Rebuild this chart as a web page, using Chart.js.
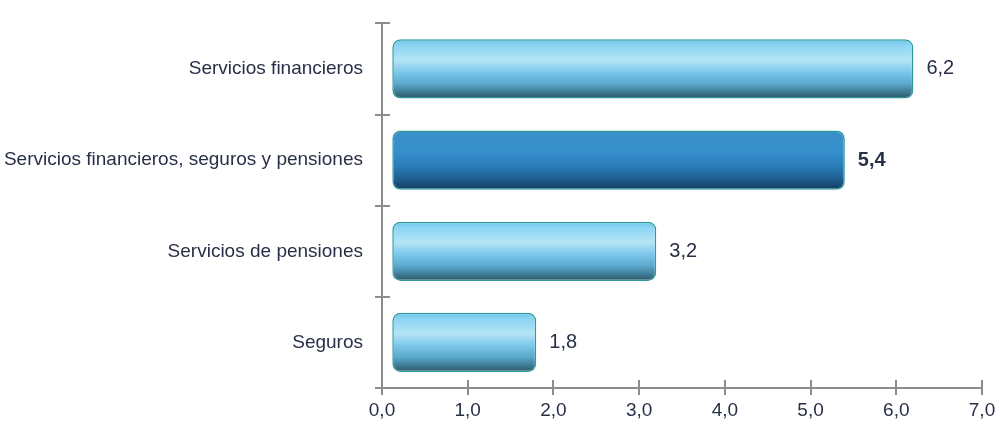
<!DOCTYPE html>
<html lang="es">

<head>
    <meta charset="UTF-8">
    <meta name="viewport" content="width=device-width, initial-scale=1.0">
    <title>Servicios financieros</title>
    <script src="https://cdn.jsdelivr.net/npm/chart.js"></script>
    <style>
        body { margin: 0; background: #fff; }
        #wrap { width: 1000px; height: 428px; position: relative; }
    </style>
</head>

<body>
    <div id="wrap"><canvas id="myChart"></canvas></div>
    <script>
        const categories = [
            'Servicios financieros',
            'Servicios financieros, seguros y pensiones',
            'Servicios de pensiones',
            'Seguros'
        ];
        const values = [6.2, 5.4, 3.2, 1.8];
        const xTicks = [0, 1, 2, 3, 4, 5, 6, 7];
        const highlight = 1; // the aggregate bar is drawn darker, label in bold

        const FONT = "'Liberation Sans', Arial, sans-serif";
        const TEXT = '#283047';
        const AXIS = '#8c8c8c';
        const BAR_PCT = 0.65;

        function fmt(v) {
            return v.toFixed(1).replace('.', ',');
        }

        // vertical gradient so every bar looks like a tube
        function tubeFill(c) {
            const ys = c.chart.scales.y;
            if (!ys || !ys.height) return '#7cc6ea';
            const band = ys.height / categories.length;
            const half = band * BAR_PCT / 2;
            const cy = ys.getPixelForValue(c.dataIndex);
            const g = c.chart.ctx.createLinearGradient(0, cy - half, 0, cy + half);
            if (c.dataIndex === highlight) {
                g.addColorStop(0, '#3b8fc6');
                g.addColorStop(0.35, '#3690cc');
                g.addColorStop(0.6, '#2a7cb8');
                g.addColorStop(0.85, '#1d5a8a');
                g.addColorStop(1, '#143a5c');
            } else {
                g.addColorStop(0, '#6cc4e6');
                g.addColorStop(0.1, '#8ad5f3');
                g.addColorStop(0.35, '#b5e4f4');
                g.addColorStop(0.55, '#7cc8ec');
                g.addColorStop(0.75, '#5aa8cc');
                g.addColorStop(0.9, '#3d7891');
                g.addColorStop(1, '#2e5264');
            }
            return g;
        }

        // tick marks that also reach into the plot area
        const innerTicks = {
            id: 'innerTicks',
            afterDraw(chart) {
                const { ctx, scales: { x, y } } = chart;
                ctx.save();
                ctx.strokeStyle = AXIS;
                ctx.lineWidth = 2;
                ctx.beginPath();
                const band = y.height / categories.length;
                for (let i = 0; i <= categories.length; i++) {
                    const py = Math.round(y.top + i * band);
                    ctx.moveTo(x.left, py);
                    ctx.lineTo(x.left + 8, py);
                }
                xTicks.forEach(t => {
                    const px = Math.round(x.getPixelForValue(t));
                    ctx.moveTo(px, y.bottom);
                    ctx.lineTo(px, y.bottom - 8);
                });
                ctx.stroke();
                ctx.restore();
            }
        };

        const valueLabels = {
            id: 'valueLabels',
            afterDatasetsDraw(chart) {
                const ctx = chart.ctx;
                const meta = chart.getDatasetMeta(0);
                ctx.save();
                ctx.fillStyle = TEXT;
                ctx.textBaseline = 'middle';
                ctx.textAlign = 'left';
                meta.data.forEach((el, i) => {
                    ctx.font = (i === highlight ? 'bold ' : '') + '20px ' + FONT;
                    ctx.fillText(fmt(values[i]), el.x + 13, el.y);
                });
                ctx.restore();
            }
        };

        const ctx = document.getElementById('myChart').getContext('2d');
        new Chart(ctx, {
            type: 'bar',
            data: {
                labels: categories,
                datasets: [{
                    data: values,
                    base: 0.12,
                    backgroundColor: tubeFill,
                    borderColor: '#2f9a9c',
                    borderWidth: 1.5,
                    borderSkipped: false,
                    borderRadius: 8,
                    barPercentage: BAR_PCT,
                    categoryPercentage: 1
                }]
            },
            options: {
                indexAxis: 'y',
                responsive: true,
                maintainAspectRatio: false,
                animation: false,
                layout: { padding: { top: 19, right: 18, left: 0, bottom: 0 } },
                plugins: {
                    legend: { display: false },
                    tooltip: { enabled: false }
                },
                scales: {
                    x: {
                        min: 0,
                        max: 7,
                        afterBuildTicks: s => { s.ticks = xTicks.map(v => ({ value: v })); },
                        afterFit: s => { s.height = 40; },
                        grid: { drawOnChartArea: false, tickLength: 7, color: AXIS, lineWidth: 2 },
                        border: { color: AXIS, width: 2 },
                        ticks: {
                            padding: 4,
                            color: TEXT,
                            font: { family: FONT, size: 19 },
                            callback: v => fmt(v)
                        }
                    },
                    y: {
                        offset: true,
                        afterFit: s => { s.width = 382; },
                        grid: { offset: true, drawOnChartArea: false, tickLength: 7, color: AXIS, lineWidth: 2 },
                        border: { color: AXIS, width: 2 },
                        ticks: {
                            padding: 12,
                            color: TEXT,
                            font: { family: FONT, size: 19 }
                        }
                    }
                }
            },
            plugins: [innerTicks, valueLabels]
        });
    </script>
</body>

</html>
